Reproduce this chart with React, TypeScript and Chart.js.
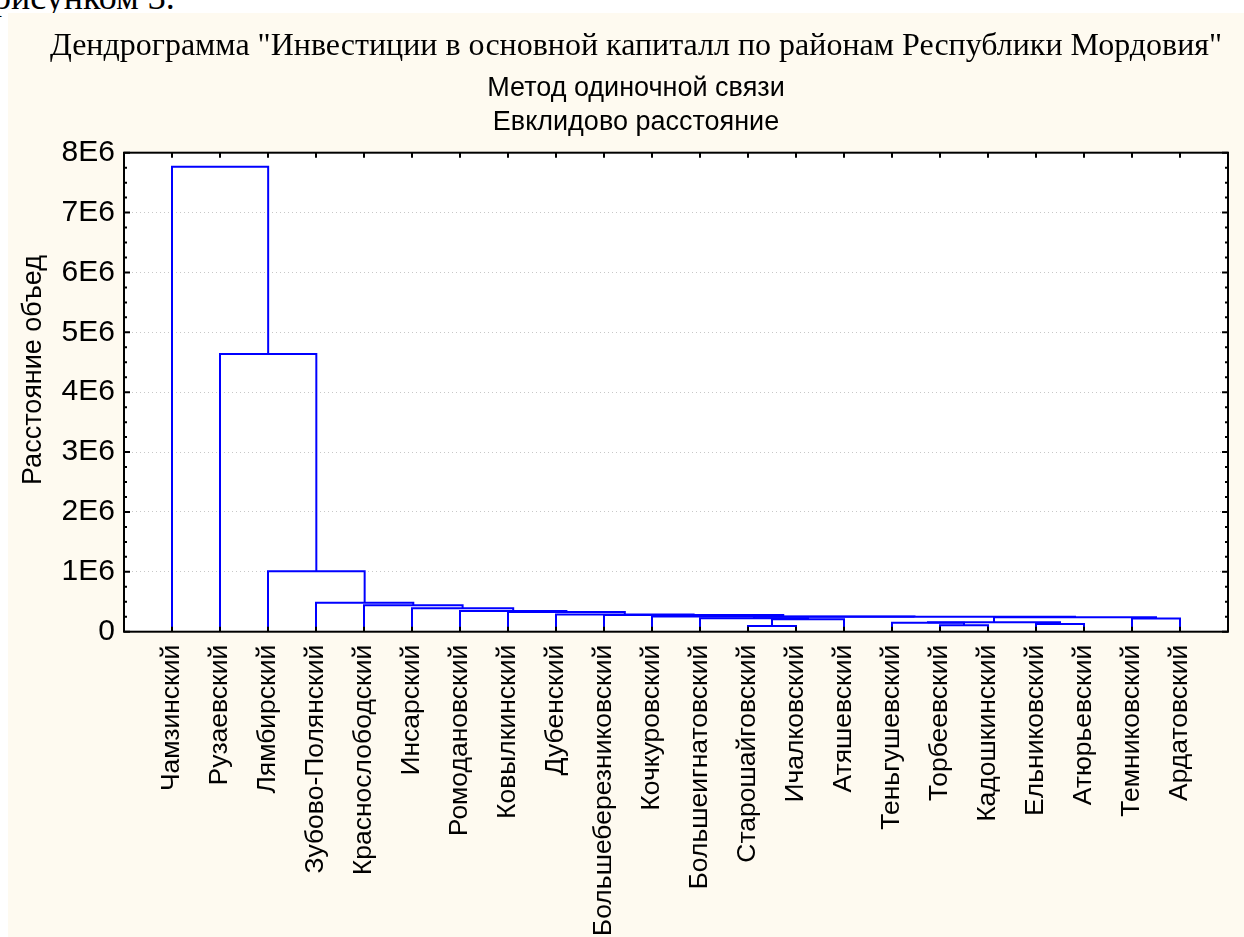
import React, { useEffect, useRef } from "react";
import { Chart, registerables } from "chart.js";

Chart.register(...registerables);

// Leaves in dendrogram order
const leafNames = [
  "Чамзинский",
  "Рузаевский",
  "Лямбирский",
  "Зубово-Полянский",
  "Краснослободский",
  "Инсарский",
  "Ромодановский",
  "Ковылкинский",
  "Дубенский",
  "Большеберезниковский",
  "Кочкуровский",
  "Большеигнатовский",
  "Старошайговский",
  "Ичалковский",
  "Атяшевский",
  "Теньгушевский",
  "Торбеевский",
  "Кадошкинский",
  "Ельниковский",
  "Атюрьевский",
  "Темниковский",
  "Ардатовский",
];

// Merges (node ids: leaves 0..21, merge k -> id 22 + k)
const mergeLeft = [12, 16, 18, 15, 25, 22, 11, 20, 26, 28, 10, 9, 8, 7, 6, 5, 4, 3, 2, 1, 0];
const mergeRight = [13, 17, 19, 23, 24, 14, 27, 21, 29, 30, 31, 32, 33, 34, 35, 36, 37, 38, 39, 40, 41];
const mergeHeight = [
  95000, 107000, 128000, 150000, 157000, 207000, 224000, 220000, 240000, 250000,
  255000, 279000, 287000, 329000, 346000, 391000, 441000, 484000, 1010000, 4640000, 7766000,
];

const yTickValues = [0, 1e6, 2e6, 3e6, 4e6, 5e6, 6e6, 7e6, 8e6];
const yTickLabels = ["0", "1E6", "2E6", "3E6", "4E6", "5E6", "6E6", "7E6", "8E6"];

const titleText = 'Дендрограмма "Инвестиции в основной капиталл по районам Республики Мордовия"';
const subtitleLines = ["Метод одиночной связи", "Евклидово расстояние"];
const yAxisTitle = "Расстояние объед";

const SANS = "'Liberation Sans', Arial, sans-serif";
const SERIF = "'Liberation Serif', 'Times New Roman', serif";

const CANVAS_W = 1256;
const CANVAS_H = 924;
const PAD_L = 36;
const PAD_R = 36;

function buildDatasets() {
  const n = leafNames.length;
  const pos: number[] = leafNames.map((_, i) => i + 1);
  const hgt: number[] = leafNames.map(() => 0);
  const datasets: any[] = [];
  mergeLeft.forEach((l, k) => {
    const r = mergeRight[k];
    const h = mergeHeight[k];
    datasets.push({
      data: [
        { x: pos[l], y: hgt[l] },
        { x: pos[l], y: h },
        { x: pos[r], y: h },
        { x: pos[r], y: hgt[r] },
      ],
      showLine: true,
      borderColor: "#0000FF",
      backgroundColor: "#0000FF",
      borderWidth: 2,
      pointRadius: 0,
      pointHoverRadius: 0,
      fill: false,
      tension: 0,
    });
    pos[n + k] = (pos[l] + pos[r]) / 2;
    hgt[n + k] = h;
  });
  return datasets;
}

const framePlugin = {
  id: "statFrame",
  beforeDraw(chart: any) {
    const { ctx, chartArea: a } = chart;
    ctx.save();
    ctx.fillStyle = "#FFFFFF";
    ctx.fillRect(a.left, a.top, a.right - a.left, a.bottom - a.top);
    ctx.restore();
  },
  afterDatasetsDraw(chart: any) {
    const { ctx, chartArea: a, scales } = chart;
    ctx.save();
    ctx.strokeStyle = "#000000";
    ctx.lineWidth = 2;
    ctx.beginPath();
    for (let k = 0; k <= 32; k++) {
      const v = k * 250000;
      const y = scales.y.getPixelForValue(v);
      const len = k % 4 === 0 ? 6 : 3;
      ctx.moveTo(a.left, y);
      ctx.lineTo(a.left + len, y);
      ctx.moveTo(a.right, y);
      ctx.lineTo(a.right - len, y);
    }
    leafNames.forEach((_, i) => {
      const x = scales.x.getPixelForValue(i + 1);
      ctx.moveTo(x, a.top);
      ctx.lineTo(x, a.top + 5);
      ctx.moveTo(x, a.bottom);
      ctx.lineTo(x, a.bottom - 5);
    });
    ctx.stroke();
    ctx.strokeRect(a.left, a.top, a.right - a.left, a.bottom - a.top);
    ctx.restore();
  },
  afterDraw(chart: any) {
    // vertical axis caption, placed slightly above the axis middle as in the source
    const { ctx } = chart;
    ctx.save();
    ctx.translate(26, 357);
    ctx.rotate(-Math.PI / 2);
    ctx.font = `27px ${SANS}`;
    ctx.fillStyle = "#000000";
    ctx.textAlign = "center";
    ctx.textBaseline = "middle";
    ctx.fillText(yAxisTitle, 0, 0);
    ctx.restore();
  },
};

export default function App() {
  const canvasRef = useRef<HTMLCanvasElement | null>(null);

  useEffect(() => {
    document.body.style.margin = "0";
    document.body.style.overflow = "hidden";
    const canvas = canvasRef.current;
    if (!canvas) return;
    const chart = new Chart(canvas, {
      type: "scatter",
      data: { datasets: buildDatasets() },
      plugins: [framePlugin],
      options: {
        animation: false,
        responsive: false,
        devicePixelRatio: 1,
        events: [],
        layout: { padding: { left: PAD_L, right: PAD_R, top: 0, bottom: 0 } },
        plugins: {
          legend: { display: false },
          tooltip: { enabled: false },
          title: {
            display: true,
            text: titleText,
            color: "#000000",
            font: { family: SERIF, size: 32, weight: "normal", lineHeight: 1.2 },
            padding: { top: 14.8, bottom: 5.8 },
          },
          subtitle: {
            display: true,
            text: subtitleLines,
            color: "#000000",
            font: { family: SANS, size: 27, weight: "normal", lineHeight: 34 / 27 },
            padding: { top: 0, bottom: 12.7 },
          },
        },
        scales: {
          x: {
            type: "linear",
            min: 0,
            max: leafNames.length + 1,
            afterBuildTicks: (s: any) => {
              s.ticks = leafNames.map((_, i) => ({ value: i + 1 }));
            },
            afterFit: (s: any) => {
              s.height = CANVAS_H - 618.7;
            },
            ticks: {
              autoSkip: false,
              minRotation: 90,
              maxRotation: 90,
              padding: 13,
              color: "#000000",
              font: { family: SANS, size: 26.5 },
              callback: (v: any) => leafNames[Math.round(Number(v)) - 1] ?? "",
            },
            grid: { display: false, drawTicks: false },
            border: { display: false },
          },
          y: {
            type: "linear",
            min: 0,
            max: 8e6,
            afterBuildTicks: (s: any) => {
              s.ticks = yTickValues.map((v) => ({ value: v }));
            },
            afterFit: (s: any) => {
              s.width = 116 - PAD_L;
            },
            ticks: {
              padding: 9,
              color: "#000000",
              font: { family: SANS, size: 30 },
              callback: (v: any) => {
                const idx = yTickValues.indexOf(Number(v));
                return idx >= 0 ? yTickLabels[idx] : "";
              },
            },
            grid: { color: "#C8C8C8", lineWidth: 1, drawTicks: false },
            border: { display: false, dash: [1, 3] },
            title: { display: false },
          },
        },
      },
    });
    return () => chart.destroy();
  }, []);

  return (
    <div
      style={{
        position: "relative",
        width: 1244,
        height: 937,
        overflow: "hidden",
        background: "#FFFFFF",
      }}
    >
      <div
        style={{
          position: "absolute",
          left: -7,
          top: -21,
          fontFamily: SERIF,
          fontSize: 36,
          lineHeight: "36px",
          whiteSpace: "nowrap",
          color: "#000",
        }}
      >
        рисунком 3.
      </div>
      <div
        style={{
          position: "absolute",
          left: 8,
          top: 13,
          width: 1236,
          height: 924,
          background: "#FEFAF0",
          overflow: "hidden",
        }}
      >
        <canvas
          ref={canvasRef}
          width={CANVAS_W}
          height={CANVAS_H}
          style={{ display: "block", width: CANVAS_W, height: CANVAS_H }}
        />
      </div>
    </div>
  );
}
